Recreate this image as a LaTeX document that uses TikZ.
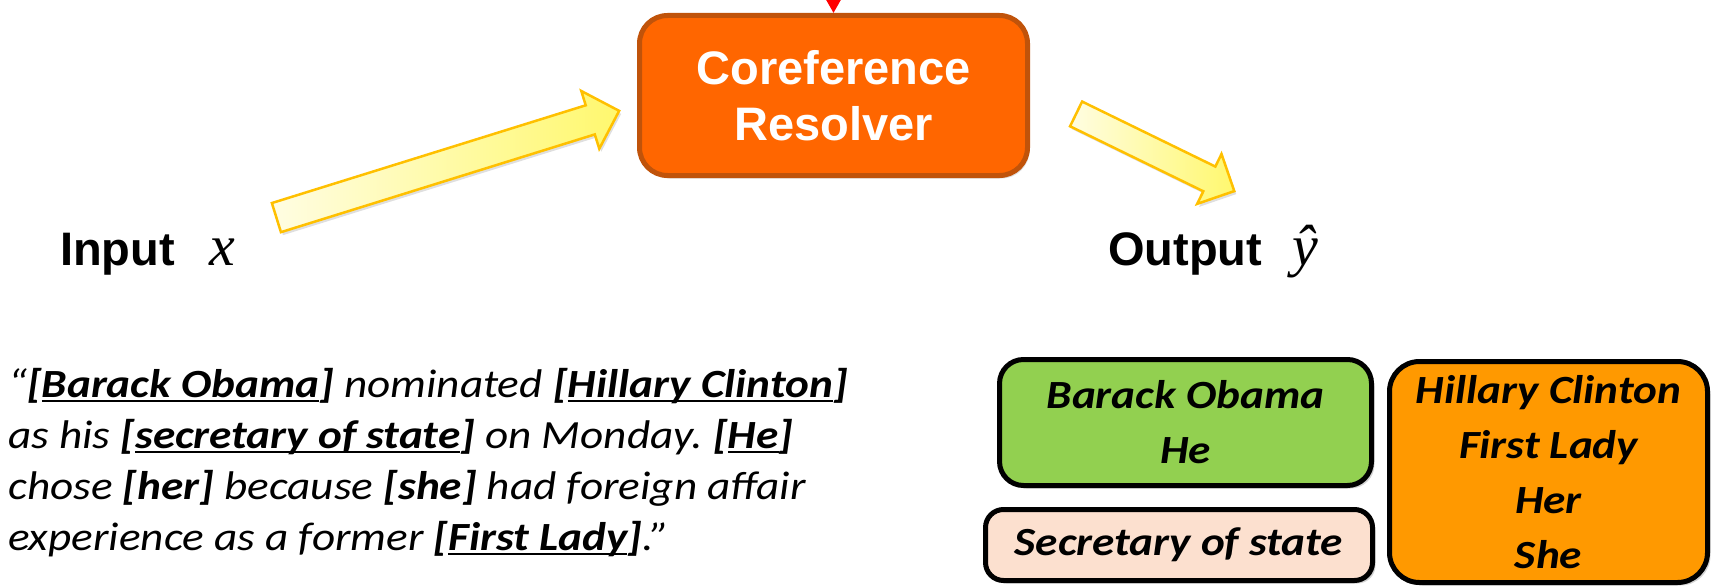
\documentclass[tikz,border=0pt]{standalone}
\usepackage{fontspec}
\setmainfont{Carlito}[FakeStretch=1.13]
\newfontfamily\arialfont{Liberation Sans}
\newfontfamily\timesfont{Liberation Serif}
\usetikzlibrary{shapes.arrows,shadows,arrows.meta}

\definecolor{resfill}{HTML}{FF6600}
\definecolor{resdraw}{HTML}{C0530A}
\definecolor{grnfill}{HTML}{92D050}
\definecolor{peachfill}{HTML}{FCE0CF}
\definecolor{orgfill}{HTML}{FF9900}
\definecolor{arrowlight}{HTML}{FFFDE2}
\definecolor{arrowdark}{HTML}{FFF86E}
\definecolor{arrowedge}{HTML}{FFC000}

% underlined mention inside bold brackets
\newcommand\ulword[1]{\setbox0\hbox{#1}\rlap{\rule[-0.12em]{\wd0}{0.06em}}\box0}
\newcommand\ment[1]{\textbf{[\ulword{#1}]}}
\newcommand\plainment[1]{\textbf{[#1]}}

\tikzset{
  resolverbox/.style={draw=resdraw, fill=resfill, line width=5pt, rounded corners=28pt,
    minimum width=388pt, minimum height=160pt, inner sep=0pt, align=center,
    text=white, font=\arialfont\bfseries\fontsize{47}{56}\selectfont,
    drop shadow={opacity=0.25, shadow xshift=2pt, shadow yshift=-3pt}},
  clusterbox/.style={draw=black, line width=5pt, rounded corners=24pt, inner sep=0pt,
    align=center, font=\fontsize{40}{55}\selectfont\bfseries\itshape,
    drop shadow={opacity=0.35, shadow xshift=3pt, shadow yshift=-3pt}},
  flowarrow/.style={single arrow, draw=arrowedge, line width=2.5pt,
    left color=arrowlight, right color=arrowdark, single arrow tip angle=90,
    inner xsep=0pt, minimum height=#1,
    drop shadow={opacity=0.25, shadow xshift=2pt, shadow yshift=-3pt}},
  iolabel/.style={anchor=base west, inner sep=0pt},
}

\begin{document}
\frenchspacing
\begin{tikzpicture}[x=1pt, y=-1pt]
\useasboundingbox (0,0) rectangle (1713,586);

% central processing block
\node (res) [resolverbox] at (833.5,95.5) {Coreference\\Resolver};

% incoming feed from above
\coordinate (feed) at (833.5,-40);
\draw[red, line width=3pt, -{Triangle[width=16pt,length=15pt]}] (feed) -- (res.north);

% input / output labels
\node (inp) [iolabel] at (60,265)
  {\arialfont\bfseries\fontsize{47}{56}\selectfont Input\hspace{34pt}{\timesfont\mdseries\itshape\fontsize{58}{60}\selectfont x}};
\node (outp) [iolabel] at (1108,265)
  {\arialfont\bfseries\fontsize{47}{56}\selectfont Output\hspace{30pt}{\timesfont\mdseries\itshape\fontsize{58}{60}\selectfont \^y}};

% block arrows
\node (inarrow) [flowarrow=359pt, inner ysep=14pt, single arrow head extend=15pt, rotate=17.3]
  at (440.5,166.5) {};
\node (outarrow) [flowarrow=176pt, inner ysep=12.5pt, single arrow head extend=14pt, rotate=-26]
  at (1149,149.5) {};

% input sentence
\node (sent) [anchor=north west, inner sep=0pt, align=left,
  font=\fontsize{40}{51}\selectfont\itshape] at (8,368)
  {“\ment{Barack Obama} nominated \ment{Hillary Clinton}\\
   as his \ment{secretary of state} on Monday. \ment{He}\\
   chose \plainment{her} because \plainment{she} had foreign affair\\
   experience as a former \ment{First Lady}.”};

% resulting clusters
\node (obama) [clusterbox, fill=grnfill, minimum width=372pt, minimum height=126pt]
  at (1185.5,422.5) {Barack Obama\\He};
\node (secstate) [clusterbox, fill=peachfill, rounded corners=18pt, minimum width=387pt, minimum height=71pt]
  at (1179,545) {\raisebox{-4pt}{Secretary of state}};
\node (clinton) [clusterbox, fill=orgfill, rounded corners=30pt, minimum width=318pt, minimum height=221pt]
  at (1548.5,472) {Hillary Clinton\\First Lady\\Her\\She};
\end{tikzpicture}
\end{document}
